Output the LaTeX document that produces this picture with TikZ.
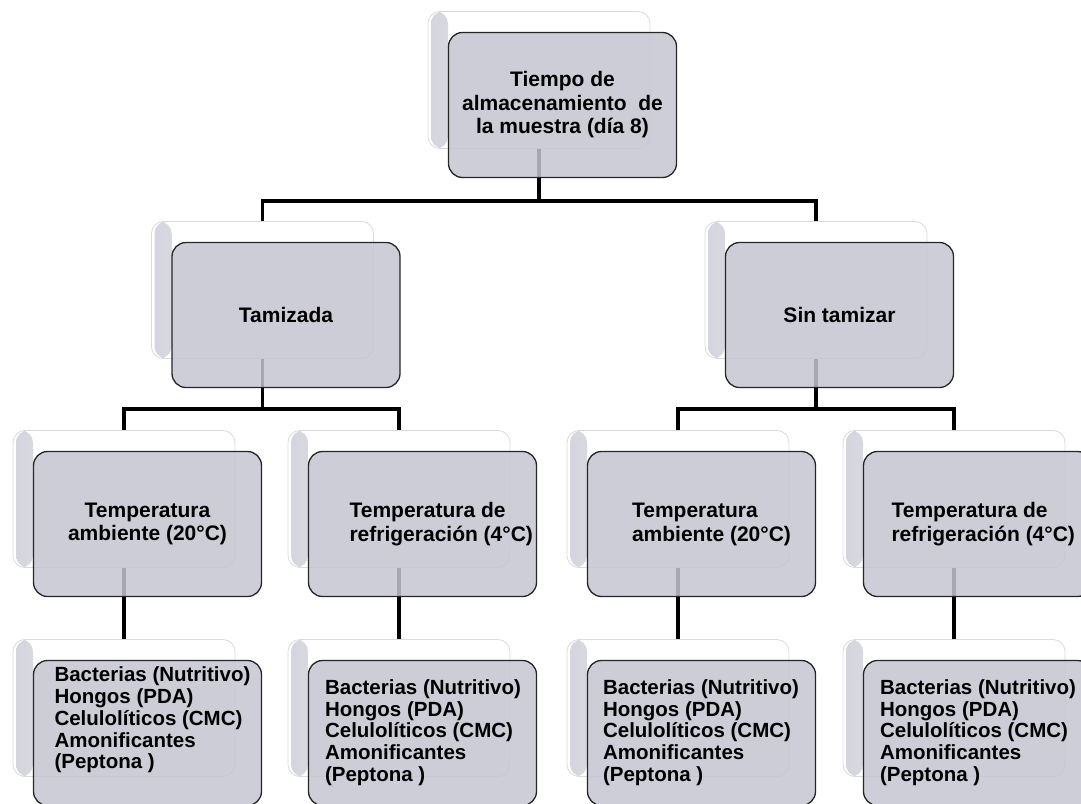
\documentclass[tikz,border=0pt]{standalone}
\usepackage{fontspec}
\setmainfont{Liberation Sans}
\usetikzlibrary{backgrounds}
\definecolor{boxgray}{RGB}{196,197,209}
\definecolor{backedge}{RGB}{218,218,222}
\definecolor{backshade}{RGB}{212,212,222}
\begin{document}
\begin{tikzpicture}[x=1pt,y=-1pt,
	backbox/.style={draw=backedge,fill=white,line width=.8pt,rounded corners=12pt,
		minimum width=222pt,minimum height=137pt,inner sep=0pt,
		path picture={\shade[left color=backshade,right color=white]
			([xshift=3pt]path picture bounding box.south west) rectangle ([xshift=20pt]path picture bounding box.north west);}},
	frontbox/.style={draw=black!85,fill=boxgray,fill opacity=.85,text opacity=1,line width=1.3pt,
		rounded corners=14pt,minimum width=228pt,minimum height=145pt,inner sep=0pt,
		align=center,font=\bfseries\fontsize{21}{23.5}\selectfont},
	boxtext/.style={inner sep=0pt,align=left,anchor=west,font=\bfseries\fontsize{21}{24}\selectfont},
	listtext/.style={inner sep=0pt,align=left,anchor=north west,font=\bfseries\fontsize{20.5}{21.7}\selectfont},
	conn/.style={line width=3.2pt}]
		\clip(0,0) rectangle (1081,803);
		% first level
		\node[backbox] (top) at (539,80) {};
		\node[frontbox] (topf) at ([shift={(23.5,25)}]top) {Tiempo de\\almacenamiento\ \ de\\la muestra (día 8)};
		% second level
		\node[backbox] (tam) at (262.5,290) {};
		\node[frontbox] (tamf) at ([shift={(23.5,25)}]tam) {Tamizada};
		\node[backbox] (sin) at (816,290) {};
		\node[frontbox] (sinf) at ([shift={(23.5,25)}]sin) {Sin tamizar};
		% third level
		\node[backbox] (ta1) at (124,499) {};
		\node[frontbox] (ta1f) at ([shift={(23.5,25)}]ta1) {Temperatura\\ambiente (20°C)};
		\node[backbox] (tr1) at (399,499) {};
		\node[frontbox] (tr1f) at ([shift={(23.5,25)}]tr1) {};
		\node[boxtext] (tr1t) at ([xshift=41.5pt]tr1f.west) {Temperatura de\\refrigeración (4°C)};
		\node[backbox] (ta2) at (678,499) {};
		\node[frontbox] (ta2f) at ([shift={(23.5,25)}]ta2) {};
		\node[boxtext] (ta2t) at ([xshift=45pt]ta2f.west) {Temperatura\\ambiente (20°C)};
		\node[backbox] (tr2) at (954,499) {};
		\node[frontbox] (tr2f) at ([shift={(23.5,25)}]tr2) {};
		\node[boxtext] (tr2t) at ([xshift=28.5pt]tr2f.west) {Temperatura de\\refrigeración (4°C)};
		% fourth level
		\foreach \b/\x in {ba1/124,br1/399,ba2/678,br2/954}{
			\node[backbox] (\b) at (\x,708) {};
			\node[frontbox] (\b-f) at ([shift={(23.5,25)}]\b) {};
		}
		\node[listtext] (ba1t) at ([shift={(21.5,7)}]ba1-f.north west) {Bacterias (Nutritivo)\\Hongos (PDA)\\Celulolíticos (CMC)\\Amonificantes\\(Peptona )};
		\node[listtext] (br1t) at ([shift={(17,19.5)}]br1-f.north west) {Bacterias (Nutritivo)\\Hongos (PDA)\\Celulolíticos (CMC)\\Amonificantes\\(Peptona )};
		\node[listtext] (ba2t) at ([shift={(16,19.5)}]ba2-f.north west) {Bacterias (Nutritivo)\\Hongos (PDA)\\Celulolíticos (CMC)\\Amonificantes\\(Peptona )};
		\node[listtext] (br2t) at ([shift={(17,19.5)}]br2-f.north west) {Bacterias (Nutritivo)\\Hongos (PDA)\\Celulolíticos (CMC)\\Amonificantes\\(Peptona )};
		% connectors
		\begin{scope}[on background layer]
			\draw[conn](top.south) -- ++(0,52) -| (tam.north);
			\draw[conn](top.south) -- ++(0,52) -| (sin.north);
			\draw[conn](tam.south) -- ++(0,50) -| (ta1.north);
			\draw[conn](tam.south) -- ++(0,50) -| (tr1.north);
			\draw[conn](sin.south) -- ++(0,50) -| (ta2.north);
			\draw[conn](sin.south) -- ++(0,50) -| (tr2.north);
			\foreach \t/\b in {ta1/ba1,tr1/br1,ta2/ba2,tr2/br2}
				\draw[conn](\t.south) -- (\b.north);
		\end{scope}
\end{tikzpicture}
\end{document}
